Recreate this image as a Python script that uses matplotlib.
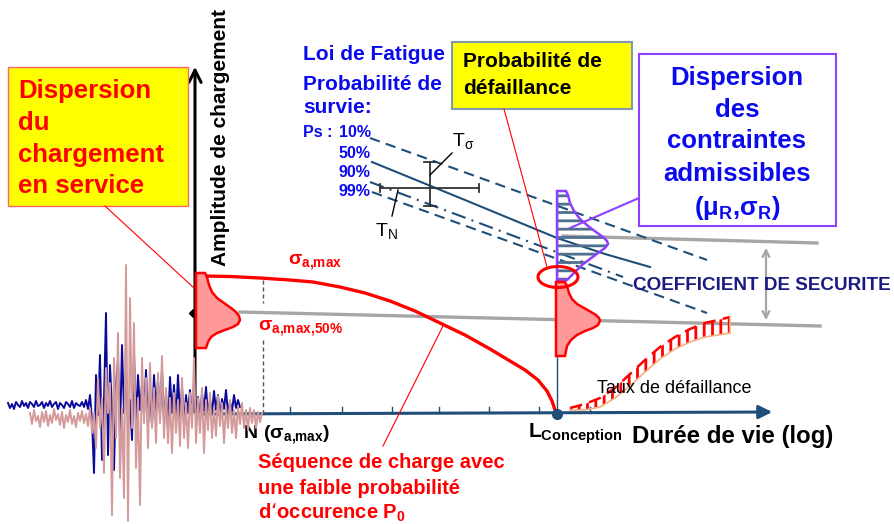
import numpy as np
import matplotlib.pyplot as plt
from matplotlib.patches import Polygon, Rectangle, Ellipse

plt.rcParams['font.family'] = ['Liberation Sans', 'DejaVu Sans']
plt.rcParams['hatch.linewidth'] = 2.0

# ---- data (picture is drawn in pixel units, y pointing down) ----
# service load signals: offsets from their baseline (up = positive)
blue_base = 405
blue_dy = [2, -3, 1, -4, 3, 0, -2, 4, -1, 2, -3, 3, 1, -2, 4, -1, 0, 3, -3, 2,
           -1, 4, -2, 1, 3, -4, 2, 0, -3, 3, 1, -2, 4, -3, 2, 0, -1, 3, -2, 5, -4,
           10, -15, -68, 30, -10, 50, -55, 5, 92, -50, 40, -5, -65, 20, 45, -30,
           60, -8, 35, -20, 5, -35, 50, -15, 30, -5, 20, -10, 35, -20, 15,
           -20, 30, -5, 25, -10, 35, -18, 12, -25, 28, -8, 20, -15, 30, -12, 18,
           -20, 10, -8, 15, -12, 22, -10, 8, -15, 12, -6, 18, -10, 5, -8, 14, -5,
           10, -12, 6, -4, 15, -8, 3, -6, 10, -3, 5, -2]
pink_base = 418
pink_dy = [5, -6, 8, -3, 2, -9, 6, -4, 7, -8, 3, -5, 9, -2, 4, -7, 6, -10, 3, -4,
           8, -6, 2, -9, 5, -3, 7, -5, 4, -8,
           10, -15, 5, -30, 40, -10, 20, -55, 50, 5, 35, -97, 60, -20, 85, -60,
           10, -80, 153, -103, 120, -10, 95, -50, 20, -87, 60, -5, 40, -30, 55,
           -10, 30, -25, 45, -5,
           62, -20, 30, -25, 20, -35, 25, -15, 18, -28, 40, -20, 15, -30, 25, -10,
           60, -25, 20, -15, 30, -35, 18, -12, 25, -20, 10, -18, 22, -8, 15, -25,
           12, -10, 18, -15, 8, -20, 12, -6, 15, -10, 8, -12, 10, -5, 8, -10, 6,
           -4, 5]

# load sequence with low probability (red curve)
load_x = [204, 230, 260, 290, 313, 340, 365, 390, 415, 440, 465, 490, 510,
          525, 538, 547, 552, 555, 556]
load_y = [276, 276.5, 278, 280, 282, 287, 293, 301, 311, 323, 335, 349, 361,
          370, 380, 391, 401, 410, 414]

# load distributions (red) and strength distribution (purple)
dist_load_x = [196, 205, 207, 209, 212, 217, 224, 231, 236, 239, 240, 238, 233,
               225, 217, 211, 208, 206, 196]
dist_load_y = [273, 273, 277, 285, 292, 298, 303, 308, 312, 316, 320, 324, 327,
               330, 333, 337, 342, 348, 348]
dist_life_x = [556, 565, 567, 569, 572, 577, 584, 591, 596, 599, 600, 598, 593,
               585, 577, 571, 567, 565, 556]
dist_life_y = [282, 282, 286, 293, 299, 304, 308, 312, 315, 318, 321, 325, 328,
               331, 335, 340, 346, 356, 356]
dist_res_x = [557, 566, 568, 570, 574, 580, 588, 596, 603, 607, 608, 605, 598,
              590, 582, 576, 571, 567, 557]
dist_res_y = [191, 191, 195, 203, 211, 219, 226, 232, 237, 241, 244, 248, 253,
              259, 265, 271, 276, 280, 280]

# fatigue curves for survival probabilities
sn10_x, sn10_y = [370, 707], [138, 260]
sn50_x, sn50_y = [372, 465, 557, 605, 650], [162, 200, 238, 254, 267]
sn90_x, sn90_y = [370, 623], [182, 277]
sn99_x, sn99_y = [372, 707], [192, 313]

# failure rate band
fail_x = [570, 585, 600, 615, 630, 645, 660, 675, 690, 705, 718, 730]
fail_top = [408, 404, 398, 388, 374, 360, 347, 337, 329, 323, 320, 317]
fail_bot = [410, 410, 407, 398, 386, 372, 359, 349, 342, 337, 335, 333]

tick_x = [290, 342, 392, 439, 489, 539, 590]
ps_labels = ['10%', '50%', '90%', '99%']
ps_y = [137, 158, 177, 196]

navy = '#1f4e79'
red = '#ff0000'
blue = '#0a0aee'
gray = '#a6a6a6'
purple = '#8f3fff'

fig = plt.figure(figsize=(8.95, 5.24), dpi=100)
ax = fig.add_axes([0, 0, 1, 1])
ax.set_xlim(0, 895)
ax.set_ylim(524, 0)
ax.axis('off')

# axes of the diagram
ax.annotate('', xy=(195, 64), xytext=(195, 415),
            arrowprops=dict(arrowstyle='->', color='black', lw=2.2, mutation_scale=22), zorder=2)
ax.annotate('', xy=(775, 412), xytext=(200, 414),
            arrowprops=dict(arrowstyle='-|>', color=navy, lw=2.2, mutation_scale=20), zorder=2)
for tx in tick_x:
    ax.plot([tx, tx], [407, 413], color=navy, lw=1, zorder=2)
ax.plot([263, 263], [280, 303], color='#555555', lw=1, ls=(0, (3, 2)), zorder=2)
ax.plot([263, 263], [340, 413], color='#555555', lw=1, ls=(0, (3, 2)), zorder=2)
ax.plot(193, 313, marker='D', color='black', ms=4, zorder=2)

# signals
bx = np.linspace(8, 240, len(blue_dy))
px = np.linspace(30, 262, len(pink_dy))
ax.plot(bx, blue_base - np.array(blue_dy), color='#0a0a99', lw=1.4, zorder=3)
ax.plot(px, pink_base - np.array(pink_dy), color='#d49a9a', lw=1.4, zorder=4)

# gray reference lines and safety factor
ax.plot([240, 820], [312, 326], color=gray, lw=2.4, zorder=3)
ax.plot([563, 817], [236, 243], color=gray, lw=2.4, zorder=3)
ax.annotate('', xy=(766, 245), xytext=(766, 323),
            arrowprops=dict(arrowstyle='<->', color=gray, lw=1.6, mutation_scale=12), zorder=3)

# fatigue curves
ax.plot(sn10_x, sn10_y, color=navy, lw=1.5, ls=(0, (5, 3)), zorder=3)
ax.plot(sn50_x, sn50_y, color=navy, lw=1.5, zorder=3)
ax.plot(sn90_x, sn90_y, color=navy, lw=1.5, ls=(0, (7, 3, 1, 3)), zorder=3)
ax.plot(sn99_x, sn99_y, color=navy, lw=1.5, ls=(0, (5, 3)), zorder=3)

# scatter cross T_sigma / T_N
ax.plot([430, 430], [162, 206], color='#333333', lw=1.3, zorder=3)
ax.plot([380, 479], [188, 188], color='#333333', lw=1.3, zorder=3)
for cx in [380, 479]:
    ax.plot([cx, cx], [184, 192], color='#333333', lw=1.3, zorder=3)
for cy in [162, 206]:
    ax.plot([424, 436], [cy, cy], color='#333333', lw=1.3, zorder=3)
ax.plot([452, 430], [153, 175], color='black', lw=1, zorder=3)
ax.plot([398, 392], [190, 216], color='black', lw=1, zorder=3)
ax.text(452, 146, r'$\mathregular{T_σ}$', fontsize=14, ha='left', va='baseline', zorder=5)
ax.text(375, 236, r'$\mathregular{T_N}$', fontsize=14, ha='left', va='baseline', zorder=5)

# red load curve
ax.plot(load_x, load_y, color=red, lw=2.4, zorder=5, solid_joinstyle='round')

# distributions
ax.add_patch(Polygon(list(zip(dist_load_x, dist_load_y)), closed=True, fc='#ff9999', ec=red, lw=1.8, zorder=6))
ax.add_patch(Polygon(list(zip(dist_life_x, dist_life_y)), closed=True, fc='#ff9999', ec=red, lw=1.8, zorder=6))
ax.plot([557, 557], [191, 414], color=navy, lw=1, zorder=4)
ax.add_patch(Polygon(list(zip(dist_res_x, dist_res_y)), closed=True, fc='none', ec='#4f6f8f', lw=0, hatch='--', zorder=4))
ax.add_patch(Polygon(list(zip(dist_res_x, dist_res_y)), closed=True, fc='none', ec=purple, lw=1.8, zorder=5))
ax.plot(557, 414, marker='o', color=navy, ms=7, zorder=6)
ax.add_patch(Ellipse((558, 277), 40, 21, fc='none', ec=red, lw=2.2, zorder=7))

# failure rate band
band = list(zip(fail_x, fail_top)) + list(zip(fail_x[::-1], fail_bot[::-1]))
ax.add_patch(Polygon(band, closed=True, fc='none', ec=red, lw=0, hatch='||', zorder=4))
ax.plot(fail_x, fail_top, color=red, lw=1.8, ls=(0, (5, 3)), zorder=5)
ax.plot(fail_x, fail_bot, color='#f4b183', lw=1.2, zorder=5)
ax.plot([730, 730], [317, 333], color='#f4b183', lw=1.2, zorder=5)
ax.text(597, 393, 'Taux de défaillance', fontsize=13, ha='left', va='baseline', zorder=6)

# boxes and leader lines
ax.add_patch(Rectangle((8, 67), 180, 139, fc='#ffff00', ec='#ff6666', lw=1, zorder=5))
ax.plot([105, 194], [206, 288], color=red, lw=0.8, zorder=5)
for line, by in zip(['Dispersion', 'du', 'chargement', 'en service'], [98, 130, 162, 193]):
    ax.text(18, by, line, fontsize=18.5, fontweight='bold', color=red, va='baseline', zorder=6)

ax.add_patch(Rectangle((452, 42), 180, 67, fc='#ffff00', ec='#8497b0', lw=1.5, zorder=5))
ax.plot([504, 547], [109, 267], color=red, lw=0.8, zorder=5)
ax.text(463, 67, 'Probabilité de', fontsize=15, fontweight='bold', va='baseline', zorder=6)
ax.text(463, 94, 'défaillance', fontsize=15, fontweight='bold', va='baseline', zorder=6)

ax.add_patch(Rectangle((639, 54), 197, 172, fc='white', ec=purple, lw=1.5, zorder=5))
ax.plot([639, 570], [198, 228], color=purple, lw=1.5, zorder=5)
for line, by in zip(['Dispersion', 'des', 'contraintes', 'admissibles'], [85, 117, 148, 181]):
    ax.text(737, by, line, fontsize=18.5, fontweight='bold', color=blue, ha='center', va='baseline', zorder=6)
ax.text(737, 215, r'$\mathregular{(μ_R{,}σ_R)}$', fontsize=18.5, fontweight='bold', color=blue,
        ha='center', va='baseline', zorder=6)

# fatigue law labels
ax.text(303, 60, 'Loi de Fatigue', fontsize=15, fontweight='bold', color=blue, va='baseline')
ax.text(303, 90, 'Probabilité de', fontsize=15, fontweight='bold', color=blue, va='baseline')
ax.text(303, 113, 'survie:', fontsize=15, fontweight='bold', color=blue, va='baseline')
ax.text(303, ps_y[0], 'Ps :', fontsize=11.5, fontweight='bold', color=blue, va='baseline')
for lab, yy in zip(ps_labels, ps_y):
    ax.text(339, yy, lab, fontsize=11.5, fontweight='bold', color=blue, va='baseline')

# other labels
ax.text(221, 138, 'Amplitude de chargement', fontsize=15, fontweight='bold', rotation=90,
        ha='center', va='center')
ax.text(288, 265, r'$\mathregular{σ_{a{,}max}}$', fontsize=14, fontweight='bold', color=red, va='baseline')
ax.text(258, 330, r'$\mathregular{σ_{a{,}max{,}50\%}}$', fontsize=14, fontweight='bold', color=red, va='baseline')
ax.text(243, 438, r'$\mathregular{N\ (σ_{a{,}max})}$', fontsize=14, fontweight='bold', va='baseline')
ax.text(528, 438, r'$\mathregular{L_{Conception}}$', fontsize=15, fontweight='bold', va='baseline')
ax.text(632, 443, 'Durée de vie (log)', fontsize=17.3, fontweight='bold', va='baseline')
ax.text(633, 285, 'COEFFICIENT DE SECURITE', fontsize=13.6, fontweight='bold', color='#1a1a80',
        va='center', zorder=6)

ax.plot([383, 443], [446, 326], color=red, lw=0.8, zorder=5)
ax.text(258, 468, 'Séquence de charge avec', fontsize=14.5, fontweight='bold', color=red, va='baseline')
ax.text(258, 494, 'une faible probabilité', fontsize=14.5, fontweight='bold', color=red, va='baseline')
ax.text(258, 519, r'd‘occurence $\mathregular{P_0}$', fontsize=14.5, fontweight='bold', color=red, va='baseline')

fig.savefig('out.png', dpi=100)
